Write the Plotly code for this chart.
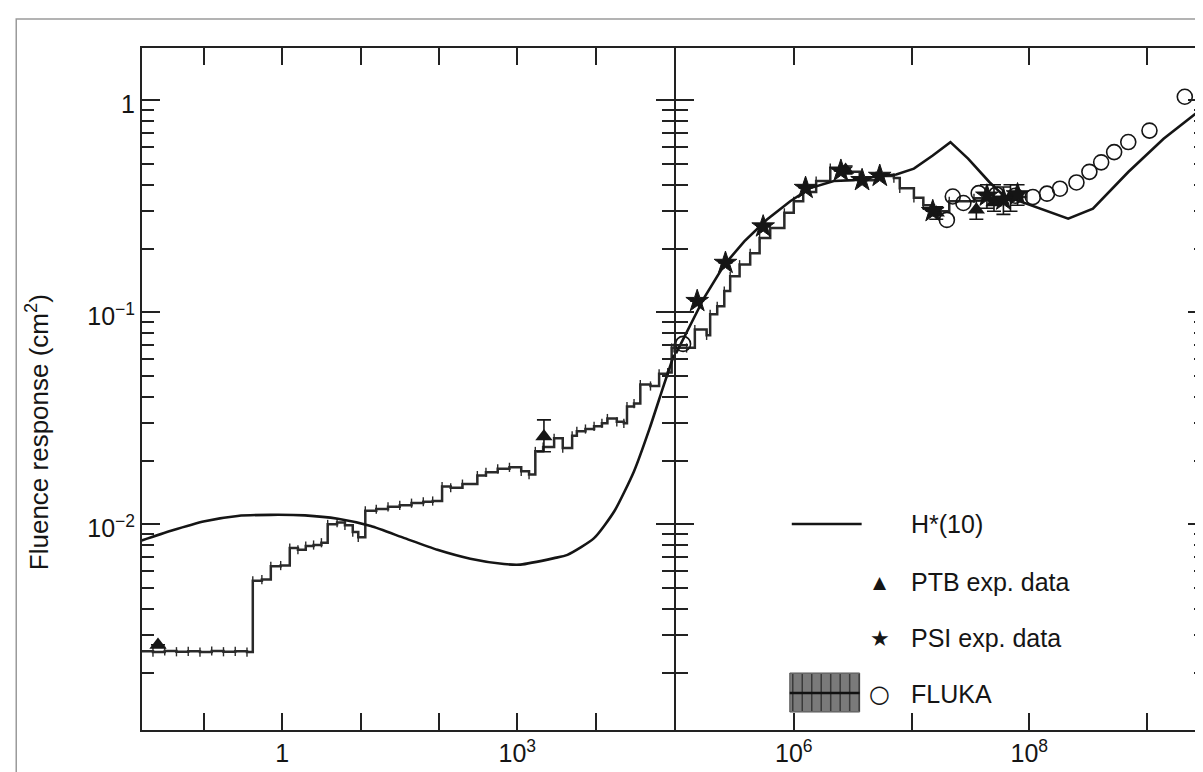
import numpy as np
import plotly.graph_objects as go

# ---------------- data (energies as log10(E / eV); responses in cm^2) ----------------
# H*(10) reference curve, left panel (thermal .. 100 keV)
h10_left_logE = [-1.80, -1.42, -0.99, -0.57, -0.15, 0.29, 0.71, 1.13, 1.56, 1.98, 2.40,
                 2.83, 3.04, 3.47, 3.64, 3.98, 4.24, 4.49, 4.69, 4.87, 5.00]
h10_left_R = [0.00838, 0.00933, 0.01035, 0.01096, 0.01109, 0.01102, 0.01062, 0.00982,
              0.00861, 0.00759, 0.00689, 0.00650, 0.00646, 0.00693, 0.00718, 0.00861,
              0.01156, 0.01782, 0.02844, 0.04540, 0.06310]
# H*(10) reference curve, right panel (100 keV .. GeV)
h10_right_logE = [5.00, 5.12, 5.24, 5.41, 5.58, 5.77, 5.97, 6.14, 6.34, 6.51, 6.73, 6.87,
                  7.02, 7.18, 7.33, 7.48, 7.66, 7.78, 8.02, 8.33, 8.54, 8.84, 9.14, 9.50]
h10_right_R = [0.0640, 0.0871, 0.1175, 0.1675, 0.2163, 0.2735, 0.3342, 0.3855, 0.4169,
               0.4207, 0.4395, 0.4467, 0.4764, 0.5495, 0.6353, 0.5309, 0.4121, 0.3565,
               0.3199, 0.2767, 0.3083, 0.4592, 0.6592, 0.9462]

# calculated response (histogram), left panel
step_left_logE = [-1.80, -1.65, -1.50, -1.35, -1.20, -1.05, -0.90, -0.75, -0.60, -0.45,
                  -0.376, -0.26, -0.146, -0.02, 0.096, 0.20, 0.30, 0.40, 0.50, 0.58,
                  0.70, 0.80, 0.90, 0.97, 1.06, 1.20, 1.35, 1.50, 1.65, 1.80,
                  1.92, 2.04, 2.15, 2.30, 2.49, 2.60, 2.75, 2.90, 3.05, 3.15,
                  3.23, 3.33, 3.47, 3.58, 3.70, 3.76, 3.87, 3.98, 4.08, 4.15,
                  4.27, 4.36, 4.40, 4.49, 4.57, 4.70, 4.81, 4.92, 4.97, 5.00]
step_left_R = [0.00252, 0.00250, 0.00253, 0.00251, 0.00252, 0.00250, 0.00253, 0.00251, 0.00252, 0.00250,
               0.00542, 0.00550, 0.00634, 0.00640, 0.00773, 0.00760, 0.00790, 0.00800, 0.00820, 0.01000,
               0.01020, 0.00990, 0.00920, 0.00870, 0.01160, 0.01180, 0.01210, 0.01230, 0.01260, 0.01280,
               0.01290, 0.01510, 0.01490, 0.01550, 0.01700, 0.01760, 0.01830, 0.01860, 0.01780, 0.01720,
               0.02210, 0.02320, 0.02550, 0.02290, 0.02620, 0.02750, 0.02820, 0.02900, 0.03000, 0.03160,
               0.03050, 0.03000, 0.03600, 0.03720, 0.04570, 0.04500, 0.05130, 0.05200, 0.06800, 0.06800]
# calculated response (histogram), right panel
step_right_logE = [5.00, 5.09, 5.16, 5.26, 5.29, 5.35, 5.41, 5.46, 5.54, 5.63,
                   5.71, 5.80, 5.92, 6.00, 6.08, 6.19, 6.31, 6.42, 6.56, 6.70,
                   6.85, 6.90, 7.02, 7.10, 7.19, 7.32, 7.53, 7.70, 7.85, 7.98]
step_right_R = [0.068, 0.068, 0.083, 0.078, 0.098, 0.107, 0.126, 0.148, 0.168, 0.190,
                0.224, 0.250, 0.295, 0.334, 0.370, 0.417, 0.480, 0.460, 0.420, 0.440,
                0.430, 0.385, 0.347, 0.320, 0.300, 0.334, 0.345, 0.340, 0.350, 0.350]

# PTB experimental data
ptb_logE = [-1.586, 3.34, 6.44, 7.21, 7.55, 7.70, 7.84]
ptb_R = [0.00270, 0.0260, 0.470, 0.295, 0.305, 0.330, 0.350]
ptb_err_plus = [0.0, 0.0051, 0.02, 0.02, 0.03, 0.07, 0.05]
ptb_err_minus = [0.0, 0.0040, 0.02, 0.02, 0.03, 0.03, 0.05]

# PSI experimental data
psi_logE = [5.18, 5.42, 5.74, 6.10, 6.40, 6.58, 6.73, 7.18, 7.64, 7.78, 7.90]
psi_R = [0.113, 0.171, 0.254, 0.386, 0.465, 0.420, 0.440, 0.300, 0.355, 0.340, 0.360]
psi_err = [0.0, 0.0, 0.0, 0.0, 0.0, 0.0, 0.0, 0.0, 0.045, 0.05, 0.04]

# FLUKA results
fluka_logE = [5.06, 7.30, 7.35, 7.44, 7.57, 7.72, 7.88, 8.03, 8.15, 8.26, 8.40,
              8.51, 8.61, 8.72, 8.84, 9.02, 9.32]
fluka_R = [0.071, 0.273, 0.352, 0.328, 0.365, 0.360, 0.355, 0.350, 0.363, 0.383, 0.410,
           0.460, 0.510, 0.570, 0.636, 0.720, 1.040]

# axis tick definitions
x_left_ticks = [1e0, 1e3]
x_left_labels = ['1', '10<sup>3</sup>']
x_left_unlabelled = [1e-1, 1e1, 1e2, 1e4]
x_right_ticks = [1e6, 1e8]
x_right_labels = ['10<sup>6</sup>', '10<sup>8</sup>']
x_right_unlabelled = [1e7, 1e9]
y_ticks = [0.01, 0.1, 1.0]
y_labels = ['10<sup>\u22122</sup>', '10<sup>\u22121</sup>', '1']
y_minor = [m * d for d in (1e-3, 1e-2, 1e-1) for m in range(2, 10)]

y_title = 'Fluence response (cm<sup>2</sup>)'
legend_labels = ['H*(10)', 'PTB exp. data', 'PSI exp. data', 'FLUKA']

# ---------------- figure ----------------
W, H = 1203, 772
L, R, T, B = 134, 3, 40, 50
PW, PH = W - L - R, H - T - B
DIV = 667          # right edge of the left panel (px)
X2_START = 669     # left edge of the right panel (px) so both axis lines coincide


def px(xp):
    return (xp - L) / PW


def py(yp):
    return (H - B - yp) / PH


def E(a):
    return np.power(10.0, np.asarray(a, dtype=float))


INK = '#151515'
FONT = 'Liberation Sans, Arial, Helvetica, sans-serif'

fig = go.Figure()

# histogram (calculated response)
step_err = dict(type='percent', value=5, visible=True, color='#2a2a2a', thickness=1.4, width=0)
fig.add_trace(go.Scatter(x=E(step_left_logE), y=step_left_R, xaxis='x', yaxis='y',
                         mode='lines', error_y=step_err,
                         line=dict(color='#2a2a2a', width=2.5, shape='hv')))
fig.add_trace(go.Scatter(x=E(step_right_logE), y=step_right_R, xaxis='x2', yaxis='y2',
                         mode='lines', error_y=step_err,
                         line=dict(color='#2a2a2a', width=2.5, shape='hv')))
# H*(10)
fig.add_trace(go.Scatter(x=E(h10_left_logE), y=h10_left_R, xaxis='x', yaxis='y',
                         mode='lines', line=dict(color=INK, width=2.6, shape='spline', smoothing=0.6)))
fig.add_trace(go.Scatter(x=E(h10_right_logE), y=h10_right_R, xaxis='x2', yaxis='y2',
                         mode='lines', line=dict(color=INK, width=2.6)))


def split(logE, vals, *extras):
    left = [i for i, v in enumerate(logE) if v <= 4.99]
    right = [i for i, v in enumerate(logE) if v > 4.99]
    out = []
    for idx in (left, right):
        out.append([[arr[i] for i in idx] for arr in (logE, vals) + extras])
    return out


# FLUKA circles
(fl_l, fl_r) = split(fluka_logE, fluka_R)
for (xs, ys), xa, ya in ((fl_l, 'x', 'y'), (fl_r, 'x2', 'y2')):
    if xs:
        fig.add_trace(go.Scatter(x=E(xs), y=ys, xaxis=xa, yaxis=ya, mode='markers',
                                 marker=dict(symbol='circle-open', size=15, color=INK,
                                             line=dict(width=1.6, color=INK))))

# PTB triangles
(pt_l, pt_r) = split(ptb_logE, ptb_R, ptb_err_plus, ptb_err_minus)
for (xs, ys, ep, em), xa, ya in ((pt_l, 'x', 'y'), (pt_r, 'x2', 'y2')):
    if xs:
        fig.add_trace(go.Scatter(x=E(xs), y=ys, xaxis=xa, yaxis=ya, mode='markers',
                                 error_y=dict(type='data', array=ep, arrayminus=em, visible=True,
                                              color=INK, thickness=1.6, width=7),
                                 marker=dict(symbol='triangle-up', size=15, color=INK)))

# PSI stars
(ps_l, ps_r) = split(psi_logE, psi_R, psi_err)
for (xs, ys, ee), xa, ya in ((ps_l, 'x', 'y'), (ps_r, 'x2', 'y2')):
    if xs:
        fig.add_trace(go.Scatter(x=E(xs), y=ys, xaxis=xa, yaxis=ya, mode='markers',
                                 error_y=dict(type='data', array=ee, visible=True,
                                              color=INK, thickness=1.6, width=7),
                                 marker=dict(symbol='star', size=17, color=INK,
                                             line=dict(width=1, color=INK))))

axis_common = dict(showgrid=False, zeroline=False, showline=True, linecolor='#222',
                   linewidth=2, ticks='inside', tickcolor='#222', tickwidth=2,
                   mirror='ticks', tickfont=dict(family=FONT, size=25, color=INK))
minor_y = dict(tickvals=y_minor, ticks='inside', ticklen=12, tickwidth=2, tickcolor='#222',
               showgrid=False)

fig.update_layout(
    width=W, height=H,
    margin=dict(l=L, r=R, t=T, b=B, pad=0),
    paper_bgcolor='white', plot_bgcolor='white',
    showlegend=False,
    font=dict(family=FONT, color=INK),
    xaxis=dict(type='log', domain=[0, px(DIV)], range=[-1.79, 5.0], anchor='y',
               tickmode='array', tickvals=x_left_ticks, ticktext=x_left_labels,
               ticklen=17,
               minor=dict(tickvals=x_left_unlabelled, ticks='inside', ticklen=17,
                          tickwidth=2, tickcolor='#222', showgrid=False),
               **axis_common),
    xaxis2=dict(type='log', domain=[px(X2_START), 1.0], range=[5.0, 9.5], anchor='y2',
                tickmode='array', tickvals=x_right_ticks, ticktext=x_right_labels,
                ticklen=17,
                minor=dict(tickvals=x_right_unlabelled, ticks='inside', ticklen=17,
                           tickwidth=2, tickcolor='#222', showgrid=False),
                **axis_common),
    yaxis=dict(type='log', domain=[0, 1], range=[-2.97, 0.247], anchor='x',
               tickmode='array', tickvals=y_ticks, ticktext=y_labels,
               ticklabelshift=4,
               ticklen=18, minor=minor_y, **axis_common),
    yaxis2=dict(type='log', domain=[0, 1], range=[-2.97, 0.247], anchor='x2',
                tickmode='array', tickvals=y_ticks, ticktext=y_labels,
                showticklabels=False, ticklen=18, minor=minor_y, **axis_common),
)

shapes = []
# outer frame of the figure
shapes.append(dict(type='rect', xref='paper', yref='paper', x0=px(8), x1=px(1230),
                   y0=py(800), y1=py(11), line=dict(color='#9a9a9a', width=1.5)))
# legend: H*(10) line sample
shapes.append(dict(type='line', xref='paper', yref='paper', x0=px(785), x1=px(855),
                   y0=py(516), y1=py(516), line=dict(color=INK, width=2.6)))
# legend: hatched band sample
shapes.append(dict(type='rect', xref='paper', yref='paper', x0=px(783), x1=px(853),
                   y0=py(704), y1=py(665), line=dict(color='#555', width=1),
                   fillcolor='#7a7a7a'))
for k in range(8):
    xx = 786 + k * 9.5
    shapes.append(dict(type='line', xref='paper', yref='paper', x0=px(xx), x1=px(xx),
                       y0=py(703), y1=py(666), line=dict(color='#3a3a3a', width=1.5)))
shapes.append(dict(type='line', xref='paper', yref='paper', x0=px(783), x1=px(853),
                   y0=py(685), y1=py(685), line=dict(color='#111', width=2.5)))
fig.update_layout(shapes=shapes)

ann = []
# y-axis title
ann.append(dict(text=y_title, xref='paper', yref='paper',
                x=px(30), y=py(424), textangle=-90, showarrow=False,
                xanchor='center', yanchor='middle', font=dict(family=FONT, size=26, color=INK)))
rows_y = [516, 574, 630, 686]
for lab, yy in zip(legend_labels, rows_y):
    ann.append(dict(text=lab, xref='paper', yref='paper', x=px(902), y=py(yy),
                    showarrow=False, xanchor='left', yanchor='middle',
                    font=dict(family=FONT, size=25, color=INK)))
for sym, yy, sz in (('\u25B2', 574, 17), ('\u2605', 630, 22), ('\u25CB', 686, 24)):
    ann.append(dict(text=sym, xref='paper', yref='paper', x=px(873), y=py(yy),
                    showarrow=False, xanchor='center', yanchor='middle',
                    font=dict(family='DejaVu Sans', size=sz, color=INK)))
fig.update_layout(annotations=ann)

fig.write_html('out.html')
